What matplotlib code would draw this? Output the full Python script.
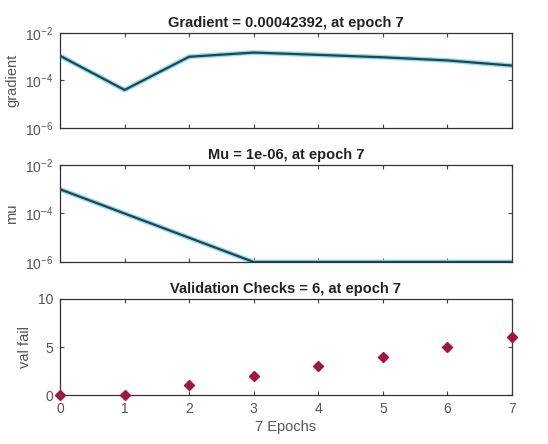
import numpy as np
import matplotlib
matplotlib.use('Agg')
import matplotlib.pyplot as plt

plt.rcParams['font.family'] = ['Liberation Sans', 'DejaVu Sans']

epochs = [0, 1, 2, 3, 4, 5, 6, 7]
gradient = [1.1e-3, 4.0e-5, 1.0e-3, 1.5e-3, 1.2e-3, 9.5e-4, 7.0e-4, 4.2392e-4]
mu = [1e-3, 1e-4, 1e-5, 1e-6, 1e-6, 1e-6, 1e-6, 1e-6]
val_fail = [0, 0, 1, 2, 3, 4, 5, 6]

titles = ['Gradient = 0.00042392, at epoch 7',
          'Mu = 1e-06, at epoch 7',
          'Validation Checks = 6, at epoch 7']
ylabels = ['gradient', 'mu', 'val fail']

W, H = 548, 444
fig = plt.figure(figsize=(W / 100, H / 100), dpi=100, facecolor='white')

def box(top, bottom, left=60, right=512):
    return [left / W, 1 - bottom / H, (right - left) / W, (bottom - top) / H]

ax1 = fig.add_axes(box(33, 128))
ax2 = fig.add_axes(box(165, 262))
ax3 = fig.add_axes(box(299, 395))

TXT = '#555555'
LINE = '#1d4756'
GLOW = '#8fdcec'

for ax, y in ((ax1, gradient), (ax2, mu)):
    ax.plot(epochs, y, color=GLOW, lw=3.5, solid_capstyle='round', zorder=2)
    ax.plot(epochs, y, color=LINE, lw=1.6, zorder=3)
    ax.set_yscale('log')
    ax.set_ylim(1e-6, 1e-2)
    ax.set_yticks([1e-6, 1e-4, 1e-2])
    ax.minorticks_off()
    ax.tick_params(labelbottom=False)

ax3.plot(epochs, val_fail, 'D', color='#a3143f', ms=5.5, zorder=3, clip_on=False)
ax3.set_ylim(0, 10)
ax3.set_yticks([0, 5, 10])
ax3.set_xlabel('7 Epochs', color=TXT, fontsize=10.5, labelpad=3)

for ax, t, yl in zip((ax1, ax2, ax3), titles, ylabels):
    ax.set_xlim(0, 7)
    ax.set_xticks(epochs)
    ax.set_title(t, fontsize=10.5, fontweight='bold', color='#222222', pad=4)
    ax.set_ylabel(yl, color=TXT, fontsize=10.5, labelpad=4)
    ax.tick_params(direction='in', top=True, right=True, length=3, pad=5,
                   labelsize=10, labelcolor=TXT, color='#444444')
    for s in ax.spines.values():
        s.set_color('#333333')
        s.set_linewidth(0.9)

fig.savefig('out.png', dpi=100, facecolor='white')
